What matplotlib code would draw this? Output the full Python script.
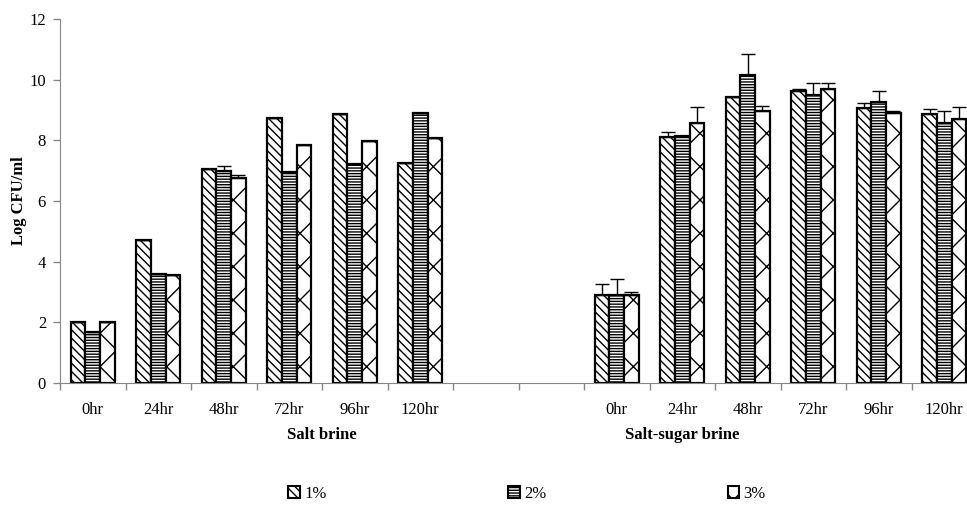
import numpy as np
import matplotlib
matplotlib.use("Agg")
import matplotlib.pyplot as plt
from matplotlib.patches import Patch

# data
hours = ["0hr", "24hr", "48hr", "72hr", "96hr", "120hr"]
groups = ["Salt brine", "Salt-sugar brine"]
series = ["1%", "2%", "3%"]

salt_1 = [2.0, 4.7, 7.05, 8.72, 8.87, 7.25]
salt_2 = [1.67, 3.6, 7.0, 6.95, 7.22, 8.91]
salt_3 = [2.0, 3.55, 6.75, 7.85, 7.99, 8.07]
salt_err_1 = [0.0, 0.0, 0.0, 0.0, 0.0, 0.0]
salt_err_2 = [0.0, 0.0, 0.15, 0.0, 0.0, 0.0]
salt_err_3 = [0.0, 0.0, 0.12, 0.0, 0.0, 0.0]

sugar_1 = [2.9, 8.12, 9.44, 9.63, 9.08, 8.86]
sugar_2 = [2.9, 8.14, 10.15, 9.5, 9.25, 8.56]
sugar_3 = [2.9, 8.56, 8.97, 9.69, 8.89, 8.7]
sugar_err_1 = [0.36, 0.15, 0.0, 0.07, 0.15, 0.18]
sugar_err_2 = [0.52, 0.0, 0.7, 0.4, 0.38, 0.4]
sugar_err_3 = [0.11, 0.55, 0.15, 0.2, 0.07, 0.4]

plt.rcParams['font.family'] = ['Liberation Serif', 'DejaVu Serif']
plt.rcParams['hatch.linewidth'] = 1.0

fig = plt.figure(figsize=(9.67, 5.05), dpi=100)
ax = fig.add_axes([60 / 967, 1 - 383 / 505, 907 / 967, 364 / 505])

# category slots: 0-5 salt brine, 6-7 empty, 8-13 salt-sugar brine
x_salt = np.arange(6) + 0.5
x_sugar = np.arange(8, 14) + 0.5
width = 0.225
hatches = ['\\\\\\\\', '------', 'x']

vals = [(salt_1, sugar_1, salt_err_1, sugar_err_1),
        (salt_2, sugar_2, salt_err_2, sugar_err_2),
        (salt_3, sugar_3, salt_err_3, sugar_err_3)]

for i, (s, g, se, ge) in enumerate(vals):
    off = (i - 1) * width
    xs = np.concatenate([x_salt, x_sugar]) + off
    ys = np.array(s + g)
    err = np.array(se + ge)
    ax.bar(xs, ys, width, color='white', edgecolor='black',
           linewidth=1.6, hatch=hatches[i], zorder=2)
    ax.errorbar(xs, ys, yerr=[np.zeros_like(err), err], fmt='none',
                ecolor='black', elinewidth=1.0, capsize=5, capthick=1.0, zorder=3)

ax.set_xlim(0, 907 / 65.5)
ax.set_ylim(0, 12)
ax.set_yticks(range(0, 13, 2))

ax.set_xticks(range(0, 14))
ax.set_xticklabels([])
ax.set_xticks(np.concatenate([x_salt, x_sugar]), minor=True)
ax.set_xticklabels(hours + hours, minor=True)
ax.tick_params(axis='x', which='major', length=5, color='#868686', width=1)
ax.tick_params(axis='x', which='minor', length=0, pad=14, labelsize=12)
ax.tick_params(axis='y', length=5, color='#868686', width=1, labelsize=12, pad=5)

for side in ['top', 'right']:
    ax.spines[side].set_visible(False)
for side in ['left', 'bottom']:
    ax.spines[side].set_color('#868686')

ax.set_ylabel('Log CFU/ml', fontsize=12, fontweight='bold', labelpad=2)

tr = ax.get_xaxis_transform()
ax.text(4.0, -0.142, groups[0], transform=tr, ha='center', va='center',
        fontsize=12, fontweight='bold')
ax.text(9.5, -0.142, groups[1], transform=tr, ha='center', va='center',
        fontsize=12, fontweight='bold')

handles = [Patch(facecolor='white', edgecolor='black', hatch=h, linewidth=1.5)
           for h in hatches]
fig.legend(handles, series, ncol=3, loc='center', bbox_to_anchor=(0.545, 0.022),
           frameon=False, fontsize=12, handlelength=0.7, handleheight=0.7,
           handletextpad=0.25, columnspacing=10.9)

fig.savefig('out.png', dpi=100)
